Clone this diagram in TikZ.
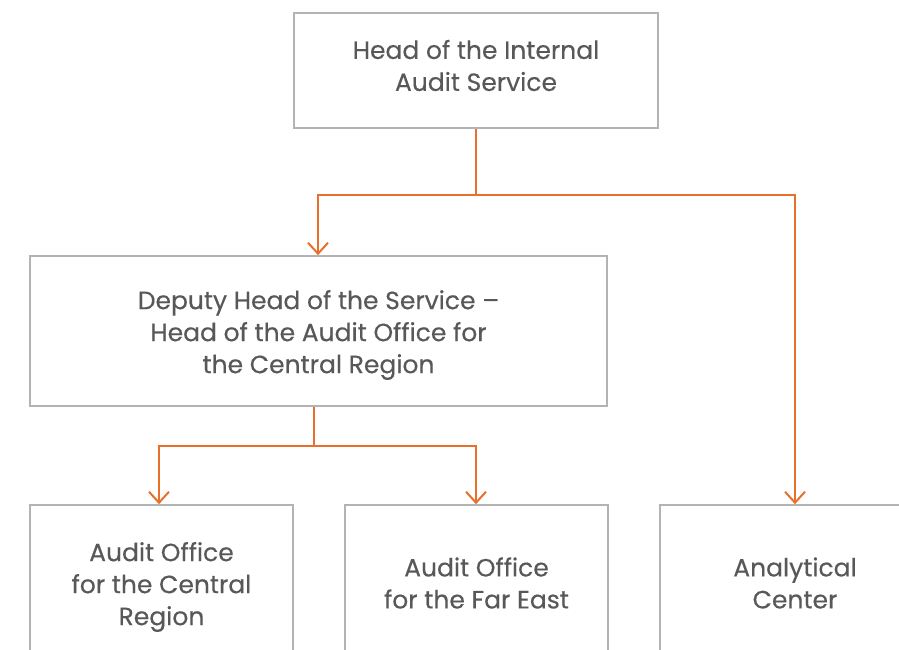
\documentclass[tikz,border=0pt]{standalone}
\usepackage{fontspec}
\setmainfont{Poppins}[FakeBold=0.35]
\usetikzlibrary{arrows.meta}
\definecolor{boxgray}{HTML}{B3B3B6}
\definecolor{txtgray}{HTML}{58585A}
\definecolor{orgline}{HTML}{E8702A}
\tikzset{
  box/.style={draw=boxgray, line width=1.6pt, rectangle, inner sep=0pt},
  boxtext/.style={inner sep=0pt, align=center, text=txtgray, font=\fontsize{25}{32}\selectfont},
  link/.style={draw=orgline, line width=2pt},
  arr/.style={link, -{Straight Barb[length=11pt, width=20pt, line width=2pt]}}
}
\begin{document}
\begin{tikzpicture}[x=1pt, y=-1pt]
\useasboundingbox (0,0) rectangle (899,650);
\clip (0,0) rectangle (899,650);
\node[box, minimum width=364pt, minimum height=115pt] (head) at (476,70.5) {};
\node[box, minimum width=577pt, minimum height=150pt] (deputy) at (318.5,331) {};
\node[box, minimum width=263pt, minimum height=158pt] (central) at (161.5,584) {};
\node[box, minimum width=263pt, minimum height=158pt] (fareast) at (476.5,584) {};
\node[box, minimum width=270pt, minimum height=158pt] (analytic) at (795,584) {};
\node[boxtext] (headt) at ([yshift=5pt]head.center) {Head of the Internal\\Audit Service};
\node[boxtext] (deputyt) at ([yshift=-4pt]deputy.center) {Deputy Head of the Service –\\Head of the Audit Office for\\the Central Region};
\node[boxtext] (centralt) at ([yshift=-3pt]central.center) {Audit Office\\for the Central\\Region};
\node[boxtext] (fareastt) at ([yshift=1pt]fareast.center) {Audit Office\\for the Far East};
\node[boxtext] (analytict) at ([yshift=1pt]analytic.center) {Analytical\\Center};
\coordinate (j1) at (476,195);
\coordinate (j2) at (314,446);
\draw[link] (head.south -| j1) -- (j1);
\draw[arr] (j1) -| (deputy.north -| 318,0);
\draw[arr] (j1) -| (analytic.north);
\draw[link] (deputy.south -| j2) -- (j2);
\draw[arr] (j2) -| (central.north -| 159,0);
\draw[arr] (j2) -| (fareast.north -| 476,0);
\end{tikzpicture}
\end{document}
